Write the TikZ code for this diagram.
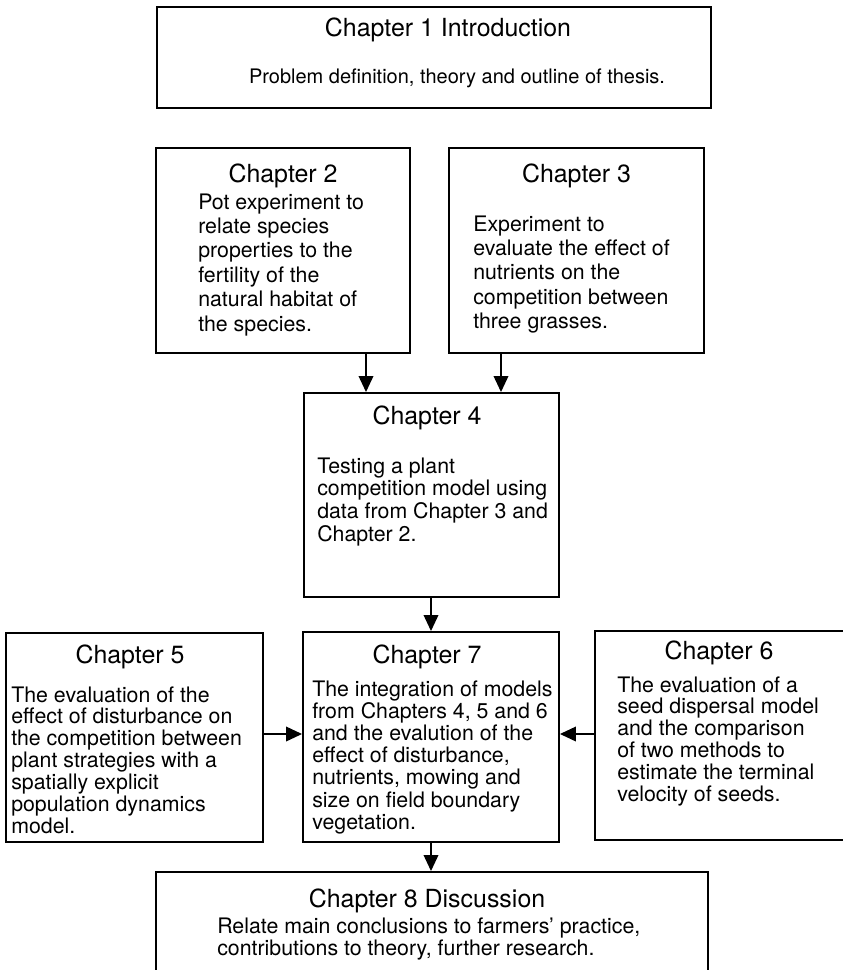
\documentclass[tikz,border=0pt]{standalone}
\usepackage{fontspec}
\setmainfont{TeX Gyre Heros}
\usetikzlibrary{arrows.meta}
\newcommand\txtlines[1]{\begin{tabular}[t]{@{}l@{}}#1\end{tabular}}
\begin{document}
\begin{tikzpicture}[x=0.75pt,y=-0.75pt,
  box/.style={draw, line width=1.45pt, inner sep=0pt},
  ttl/.style={anchor=base, inner sep=0pt, font=\fontsize{18.7}{22}\selectfont},
  txt/.style={anchor=base west, inner sep=0pt, font=\fontsize{16}{#1}\selectfont},
  arr/.style={line width=1.1pt, -{Triangle[length=12pt,width=11pt]}}]
\useasboundingbox (0,0) rectangle (842,970);
\fill[white] (0,0) rectangle (842,970);

% boxes
\node[box, minimum width=415.5pt, minimum height=75.75pt] (c1) at (434,57.5) {};
\node[box, minimum width=190.5pt, minimum height=153.75pt] (c2) at (283,250.5) {};
\node[box, minimum width=191.25pt, minimum height=153.75pt] (c3) at (576.5,250.5) {};
\node[box, minimum width=191.25pt, minimum height=153pt] (c4) at (431.5,495) {};
\node[box, minimum width=192.75pt, minimum height=156.75pt] (c5) at (134.5,737.5) {};
\node[box, minimum width=192pt, minimum height=157.5pt] (c7) at (431,737) {};
\node[box, minimum width=187.5pt, minimum height=156.75pt] (c6) at (720,735.5) {};
\node[box, minimum width=414pt, minimum height=88.5pt] (c8) at (432,931) {};

% texts
\node[ttl] (t1) at (448,37) {Chapter 1 Introduction};
\node[anchor=base, inner sep=0pt, font=\fontsize{15}{18}\selectfont] (b1) at (457,84) {Problem definition, theory and outline of thesis.};

\node[ttl] (t2) at (283,182) {Chapter 2};
\node[txt=18.3] (b2) at (198,209) {\txtlines{Pot experiment to\\relate species\\properties to the\\fertility of the\\natural habitat of\\the species.}};

\node[ttl] (t3) at (576.5,182) {Chapter 3};
\node[txt=18.3] (b3) at (473,231) {\txtlines{Experiment to\\evaluate the effect of\\nutrients on the\\competition between\\three grasses.}};

\node[ttl] (t4) at (427,424) {Chapter 4};
\node[txt=17.1] (b4) at (317,473) {\txtlines{Testing a plant\\competition model using\\data from Chapter 3 and\\Chapter 2.}};

\node[ttl] (t5) at (130,663) {Chapter 5};
\node[txt=15.9] (b5) at (11,702) {\txtlines{The evaluation of the\\effect of disturbance on\\the competition between\\plant strategies with a\\spatially explicit\\population dynamics\\model.}};

\node[ttl] (t7) at (427,663) {Chapter 7};
\node[txt=16.4] (b7) at (312,696) {\txtlines{The integration of models\\from Chapters 4, 5 and 6\\and the evalution of the\\effect of disturbance,\\nutrients, mowing and\\size on field boundary\\vegetation.}};

\node[ttl] (t6) at (719,659) {Chapter 6};
\node[txt=15.75] (b6) at (617,692) {\txtlines{The evaluation of a\\seed dispersal model\\and the comparison\\of two methods to\\estimate the terminal\\velocity of seeds.}};

\node[ttl] (t8) at (427,907) {Chapter 8 Discussion};
\node[txt=16.5] (b8) at (217,933) {\txtlines{Relate main conclusions to farmers' practice,\\contributions to theory, further research.}};

% connectors
\coordinate (xa) at (366,0);
\coordinate (xb) at (501,0);
\coordinate (xc) at (431,0);
\coordinate (ya) at (0,734);
\draw[arr] (c2.south -| xa) -- (c4.north -| xa);
\draw[arr] (c3.south -| xb) -- (c4.north -| xb);
\draw[arr] (c4.south -| xc) -- (c7.north -| xc);
\draw[arr] (c7.south -| xc) -- (c8.north -| xc);
\draw[arr] (c5.east |- ya) -- (c7.west |- ya);
\draw[arr] (c6.west |- ya) -- (c7.east |- ya);
\end{tikzpicture}
\end{document}
